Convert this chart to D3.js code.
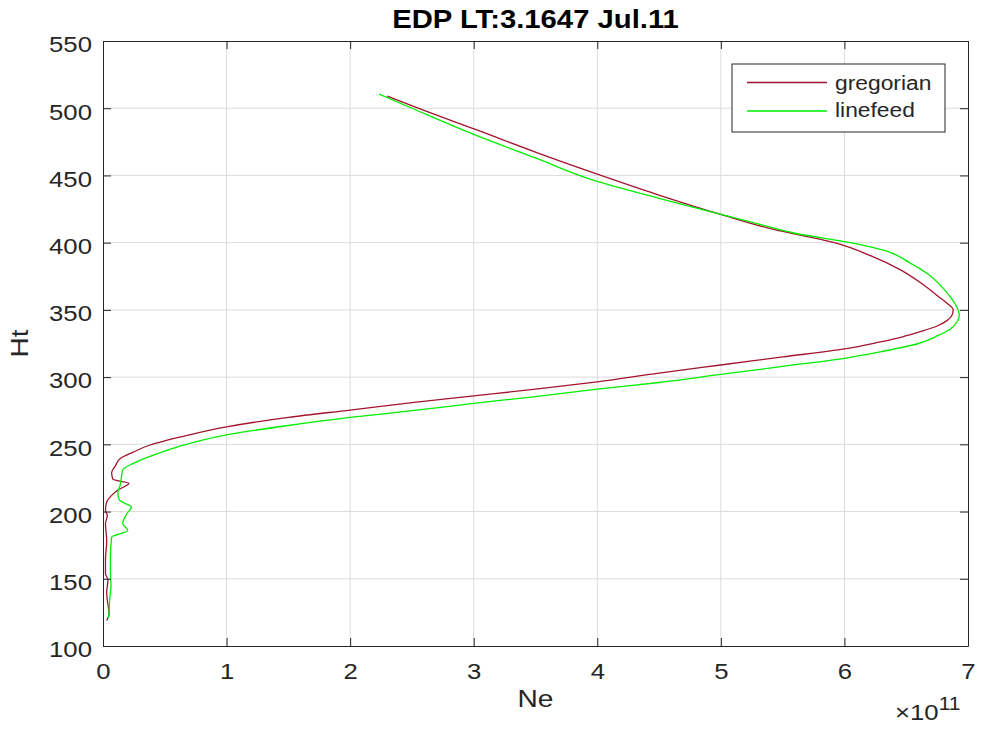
<!DOCTYPE html>
<html>
<head>
<meta charset="utf-8">
<script src="https://cdn.jsdelivr.net/npm/d3@7"></script>
<style>
  body { margin: 0; background: #fff; }
  svg text { font-family: "Liberation Sans", Arial, sans-serif; fill: #262626; }
</style>
</head>
<body>
<div id="chart"></div>
<script>
// Ne in units of 1e11, Ht from top of the profile down
var gregorianHt = [509, 500, 484, 467, 451, 436, 421, 410, 400, 390, 380, 370, 360, 355, 350, 346, 342, 338, 334, 330, 326, 321, 315, 309, 303, 296.5, 291, 286, 281, 275.5, 270, 263, 256, 249.5, 244, 239.5, 234, 229, 224, 221, 216, 212, 207, 201, 197, 191, 178, 165, 154, 149, 140, 134, 124, 119]
var gregorianNe = [2.30, 2.55, 3.02, 3.51, 4.0, 4.48, 5.0, 5.42, 5.92, 6.22, 6.45, 6.62, 6.76, 6.83, 6.88, 6.87, 6.83, 6.75, 6.62, 6.47, 6.28, 6.0, 5.5, 5.0, 4.5, 4.0, 3.5, 3.0, 2.5, 2.0, 1.5, 1.0, 0.65, 0.38, 0.24, 0.14, 0.10, 0.07, 0.08, 0.21, 0.12, 0.07, 0.03, 0.02, 0.035, 0.02, 0.03, 0.02, 0.02, 0.04, 0.03, 0.035, 0.05, 0.03]

var linefeedHt = [510.5, 500, 480.5, 463, 445.5, 433, 421, 414, 407, 400, 394, 385, 377, 366, 358, 350, 346, 341, 336, 331, 325, 319, 314, 308, 302, 296, 291, 285.5, 280.5, 275, 270, 264, 257, 248, 241, 236, 231, 226, 220, 214, 209, 206, 203.5, 198, 191, 186, 181, 176, 165, 154, 144, 136, 127, 121]
var linefeedNe = [2.235, 2.5, 3.0, 3.5, 4.0, 4.5, 5.0, 5.3, 5.6, 6.05, 6.33, 6.53, 6.67, 6.8, 6.87, 6.92, 6.93, 6.91, 6.86, 6.76, 6.6, 6.3, 6.0, 5.5, 5.0, 4.5, 4.0, 3.5, 3.0, 2.5, 2.0, 1.5, 1.0, 0.6, 0.38, 0.25, 0.16, 0.15, 0.14, 0.12, 0.13, 0.18, 0.23, 0.19, 0.16, 0.2, 0.07, 0.065, 0.06, 0.06, 0.065, 0.055, 0.05, 0.045]

var xTicks = [0, 1, 2, 3, 4, 5, 6, 7]
var yTicks = [100, 150, 200, 250, 300, 350, 400, 450, 500, 550]
var seriesNames = ["gregorian", "linefeed"]
var seriesColors = ["#a2142f", "#00ee00"]

var width = 981
var height = 730
// plot box edges (don't call these top/left, window.top is read only)
var pL = 103, pR = 968, pT = 41, pB = 646
// the reference picture is a bit wider than tall, text looks stretched
var stretch = 1.17

var svg = d3.select("#chart").append("svg")
	.attr("width", width)
	.attr("height", height)

var x = d3.scaleLinear().domain([0, 7]).range([pL, pR])
var y = d3.scaleLinear().domain([100, 550]).range([pB, pT])

// grid
svg.append("g").selectAll("line")
	.data(xTicks.slice(1, -1))
	.enter().append("line")
	.attr("x1", function(d){ return x(d) }).attr("x2", function(d){ return x(d) })
	.attr("y1", pT).attr("y2", pB)
	.attr("stroke", "#dcdcdc").attr("stroke-width", 1)
svg.append("g").selectAll("line")
	.data(yTicks.slice(1, -1))
	.enter().append("line")
	.attr("y1", function(d){ return y(d) }).attr("y2", function(d){ return y(d) })
	.attr("x1", pL).attr("x2", pR)
	.attr("stroke", "#dcdcdc").attr("stroke-width", 1)

// curves
var lines = [
	{ name: seriesNames[0], color: seriesColors[0], ht: gregorianHt, ne: gregorianNe },
	{ name: seriesNames[1], color: seriesColors[1], ht: linefeedHt, ne: linefeedNe }
]
var line = d3.line()
	.x(function(d){ return x(d[0]) })
	.y(function(d){ return y(d[1]) })
	.curve(d3.curveMonotoneY)

lines.forEach(function(s){
	var pts = s.ht.map(function(h, i){ return [s.ne[i], h] })
	svg.append("path")
		.datum(pts)
		.attr("d", line)
		.attr("fill", "none")
		.attr("stroke", s.color)
		.attr("stroke-width", 1.3)
})

// axes, ticks pointing inward on all four sides
function styleAxis(g){
	g.select(".domain").attr("stroke", "#262626")
	g.selectAll(".tick line").attr("stroke", "#262626")
	g.selectAll(".tick text").attr("font-size", "22px").attr("fill", "#262626")
		.attr("font-family", "Liberation Sans, Arial, sans-serif")
}
svg.append("g").attr("transform", "translate(0," + pB + ")")
	.call(d3.axisBottom(x).tickValues(xTicks).tickFormat(d3.format("d")).tickSizeInner(-8).tickSizeOuter(0).tickPadding(17))
	.call(styleAxis)
svg.append("g").attr("transform", "translate(0," + pT + ")")
	.call(d3.axisTop(x).tickValues(xTicks).tickFormat("").tickSizeInner(-8).tickSizeOuter(0))
	.call(styleAxis)
svg.append("g").attr("transform", "translate(" + pL + ",0)")
	.call(d3.axisLeft(y).tickValues(yTicks).tickFormat(d3.format("d")).tickSizeInner(-8).tickSizeOuter(0).tickPadding(11))
	.call(styleAxis)
	.selectAll(".tick text").attr("dy", "0.49em")
svg.append("g").attr("transform", "translate(" + pR + ",0)")
	.call(d3.axisRight(y).tickValues(yTicks).tickFormat("").tickSizeInner(-8).tickSizeOuter(0))
	.call(styleAxis)

// titles
svg.append("text")
	.attr("x", (pL + pR) / 2).attr("y", 28)
	.attr("text-anchor", "middle")
	.attr("font-size", "25px").attr("font-weight", "bold")
	.style("fill", "#000")
	.text("EDP LT:3.1647 Jul.11")
svg.append("text")
	.attr("x", (pL + pR) / 2).attr("y", 707)
	.attr("text-anchor", "middle")
	.attr("font-size", "24px")
	.text("Ne")
svg.append("text")
	.attr("transform", "translate(28," + (pT + pB) / 2 + ") rotate(-90)")
	.attr("text-anchor", "middle")
	.attr("font-size", "24px")
	.text("Ht")
var expo = svg.append("text")
	.attr("x", 895).attr("y", 720)
	.attr("font-size", "22px")
expo.append("tspan").text("\u00d710")
expo.append("tspan").attr("dy", -10).attr("font-size", "18px").text("11")

// legend
var lg = svg.append("g").attr("transform", "translate(732,64)")
lg.append("rect")
	.attr("width", 213).attr("height", 68)
	.attr("fill", "#fff").attr("stroke", "#262626").attr("stroke-width", 1)
lines.forEach(function(s, i){
	lg.append("line")
		.attr("x1", 15).attr("x2", 95)
		.attr("y1", 18.5 + i * 28.5).attr("y2", 18.5 + i * 28.5)
		.attr("stroke", s.color).attr("stroke-width", 1.3)
	lg.append("text")
		.attr("x", 103).attr("y", 25.5 + i * 27)
		.attr("font-size", "19.5px")
		.text(s.name)
})

// widen every text a bit like in the reference
svg.selectAll("text").each(function(){
	var w = this.getComputedTextLength()
	if (w > 0) d3.select(this).attr("textLength", w * stretch).attr("lengthAdjust", "spacingAndGlyphs")
})
</script>
</body>
</html>
